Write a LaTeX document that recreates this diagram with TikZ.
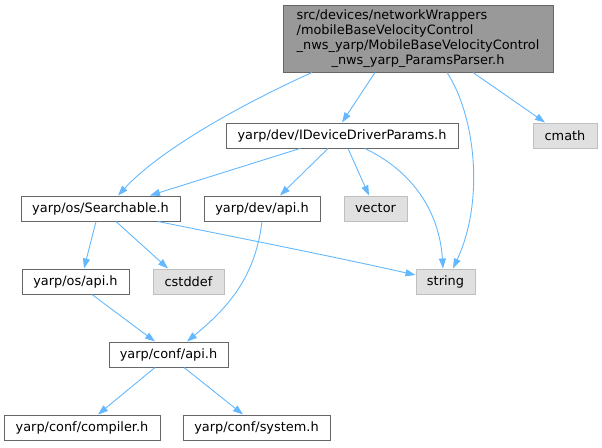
\documentclass[tikz,border=0pt]{standalone}
\usepackage{fontspec}
\setmainfont{DejaVu Sans}
\usetikzlibrary{arrows.meta}
\definecolor{edgeblue}{HTML}{63B8FF}
\definecolor{nodeborder}{HTML}{666666}
\definecolor{sysborder}{HTML}{BFBFBF}
\definecolor{sysfill}{HTML}{E0E0E0}
\definecolor{mainfill}{HTML}{999999}
\begin{document}
\begin{tikzpicture}[x=1pt,y=-1pt,
  box/.style={draw=nodeborder,fill=white,line width=1pt,inner sep=0pt,minimum height=25pt,font=\fontsize{12.9}{15}\selectfont},
  sysbox/.style={box,draw=sysborder,fill=sysfill},
  edge/.style={draw=edgeblue,line width=0.9pt,-{Triangle[length=10pt,width=7pt]}}]
\useasboundingbox (0,0) rectangle (602,447);
\node[box,fill=mainfill,minimum width=270pt,minimum height=67pt] (main) at (418,38.5)
  {\fontsize{12.9}{15}\selectfont\begin{tabular}{@{}l@{}}src/devices/networkWrappers\\/mobileBaseVelocityControl\\\_nws\_yarp/MobileBaseVelocityControl\\\multicolumn{1}{@{}c@{}}{\_nws\_yarp\_ParamsParser.h}\end{tabular}};
\node[box,minimum width=232pt] (iddp) at (342,135.5) {yarp/dev/IDeviceDriverParams.h};
\node[sysbox,minimum width=64pt] (cmath) at (565,135.5) {cmath};
\node[box,minimum width=159pt] (search) at (100.5,208.5) {yarp/os/Searchable.h};
\node[box,minimum width=116pt] (devapi) at (262,208.5) {yarp/dev/api.h};
\node[sysbox,minimum width=63pt] (vector) at (375.5,208.5) {vector};
\node[sysbox,minimum width=59pt] (string) at (445.5,281.5) {string};
\node[box,minimum width=107pt] (osapi) at (75.5,281.5) {yarp/os/api.h};
\node[sysbox,minimum width=71pt] (cstddef) at (188.5,281.5) {cstddef};
\node[box,minimum width=119pt] (confapi) at (168.5,354.5) {yarp/conf/api.h};
\node[box,minimum width=156pt] (compiler) at (82,427.5) {yarp/conf/compiler.h};
\node[box,minimum width=147pt] (system) at (256.5,427.5) {yarp/conf/system.h};
% edges
\draw[edge] ([xshift=-106pt]main.south) .. controls (240,105) and (160,150) .. ([xshift=17.5pt]search.north);
\draw[edge] ([xshift=-43pt]main.south) -- (iddp.north);
\draw[edge] ([xshift=29pt]main.south) .. controls (475,115) and (485,200) .. ([xshift=7.5pt]string.north);
\draw[edge] ([xshift=55pt]main.south) -- ([xshift=-20pt]cmath.north);
\draw[edge] ([xshift=-42pt]iddp.south) -- ([xshift=49.5pt]search.north);
\draw[edge] ([xshift=-14pt]iddp.south) -- ([xshift=18pt]devapi.north);
\draw[edge] ([xshift=6pt]iddp.south) -- ([xshift=-6.5pt]vector.north);
\draw[edge] ([xshift=23pt]iddp.south) .. controls (420,175) and (440,220) .. ([xshift=-2.5pt]string.north);
\draw[edge] ([xshift=-4.5pt]search.south) -- ([xshift=8.5pt]osapi.north);
\draw[edge] ([xshift=15.5pt]search.south) -- ([xshift=-20.5pt]cstddef.north);
\draw[edge] ([xshift=57.5pt]search.south) .. controls (250,240) and (340,258) .. ([yshift=6.5pt]string.west);
\draw[edge] (devapi.south) .. controls (255,280) and (225,310) .. ([xshift=18.5pt]confapi.north);
\draw[edge] ([xshift=16.5pt]osapi.south) -- ([xshift=-13.5pt]confapi.north);
\draw[edge] ([xshift=-13.5pt]confapi.south) -- ([xshift=16pt]compiler.north);
\draw[edge] ([xshift=15.5pt]confapi.south) -- ([xshift=-13.5pt]system.north);
\end{tikzpicture}
\end{document}
